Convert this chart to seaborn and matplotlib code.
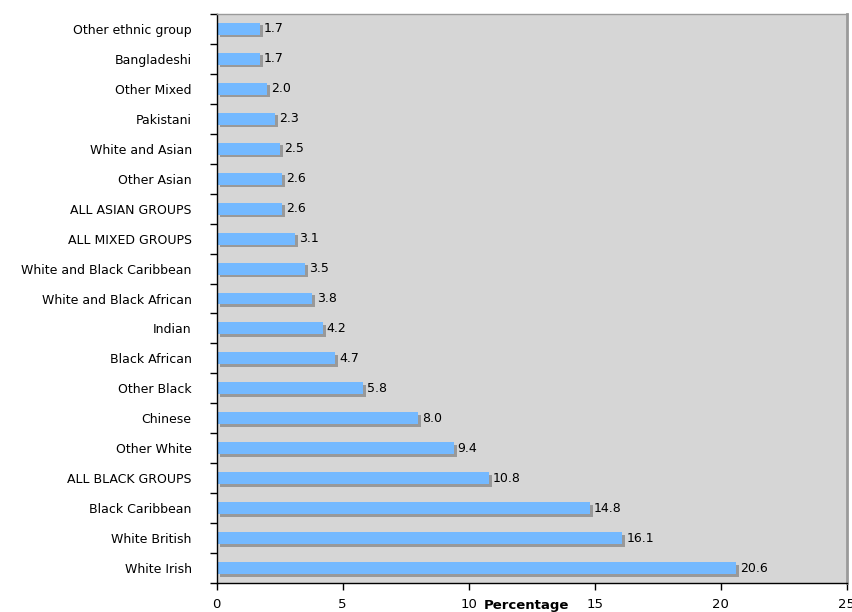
import matplotlib
matplotlib.use("Agg")
import matplotlib.pyplot as plt
import matplotlib.transforms as mtransforms
import seaborn as sns
import pandas as pd
import numpy as np

# Percentage by ethnic group, listed top to bottom
groups = [
    "Other ethnic group", "Bangladeshi", "Other Mixed", "Pakistani",
    "White and Asian", "Other Asian", "ALL ASIAN GROUPS", "ALL MIXED GROUPS",
    "White and Black Caribbean", "White and Black African", "Indian",
    "Black African", "Other Black", "Chinese", "Other White",
    "ALL BLACK GROUPS", "Black Caribbean", "White British", "White Irish",
]
percent = [1.7, 1.7, 2.0, 2.3, 2.5, 2.6, 2.6, 3.1, 3.5, 3.8, 4.2,
           4.7, 5.8, 8.0, 9.4, 10.8, 14.8, 16.1, 20.6]
x_ticks = [0, 5, 10, 15, 20, 25]

df = pd.DataFrame({"group": groups, "percent": percent})

sns.set_theme(style="white")
plt.rcParams["font.family"] = ["DejaVu Sans"]

fig = plt.figure(figsize=(8.52, 6.12), dpi=100)
ax = fig.add_axes([216.7 / 852, 1 - 583 / 612, (846.5 - 216.7) / 852, (583 - 14) / 612])
ax.set_facecolor("#d6d6d6")

# Drop shadow: same bars in grey, shifted right and down
sns.barplot(data=df, x="percent", y="group", orient="h", color="#999999",
            saturation=1, width=0.4, ax=ax, errorbar=None)
shift = mtransforms.ScaledTranslation(3 / 100, -2.5 / 100, fig.dpi_scale_trans)
for p in ax.patches:
    p.set_transform(ax.transData + shift)
    p.set_linewidth(0)
n_shadow = len(ax.containers)

sns.barplot(data=df, x="percent", y="group", orient="h", color="#74b9ff",
            saturation=1, width=0.4, ax=ax, errorbar=None)
main = ax.containers[n_shadow]
for p in main:
    p.set_linewidth(0)
ax.bar_label(main, labels=[f"{v:.1f}" for v in percent], padding=3,
             fontsize=9, color="black")

ax.set_xlim(0, 25)
ax.set_ylim(len(groups) - 0.5, -0.5)
ax.set_xticks(x_ticks)
ax.set_xticklabels([str(t) for t in x_ticks], fontsize=9.5, color="black")
ax.set_xlabel("")
ax.set_ylabel("")

# Category ticks sit on the boundaries between rows
ax.set_yticks(np.arange(len(groups)))
ax.set_yticklabels(groups, fontsize=9, color="black")
ax.set_yticks(np.arange(len(groups) + 1) - 0.5, minor=True)
ax.tick_params(axis="y", which="major", length=0, pad=18)
ax.tick_params(axis="y", which="minor", length=5, width=1, color="black", direction="out", left=True)
ax.tick_params(axis="x", which="major", length=5, width=1, color="black", direction="out", bottom=True, pad=5.5)

for side in ["left", "bottom"]:
    ax.spines[side].set_color("black")
    ax.spines[side].set_linewidth(1)
ax.spines["top"].set_color("#9a9a9a")
ax.spines["top"].set_linewidth(1)
ax.spines["right"].set_color("#9a9a9a")
ax.spines["right"].set_linewidth(2)

ax.text(12.3, -0.04, "Percentage", transform=mtransforms.blended_transform_factory(ax.transData, ax.transAxes),
        ha="center", va="center", fontsize=9.5, fontweight="bold", color="black")

fig.savefig("out.png", dpi=100)
